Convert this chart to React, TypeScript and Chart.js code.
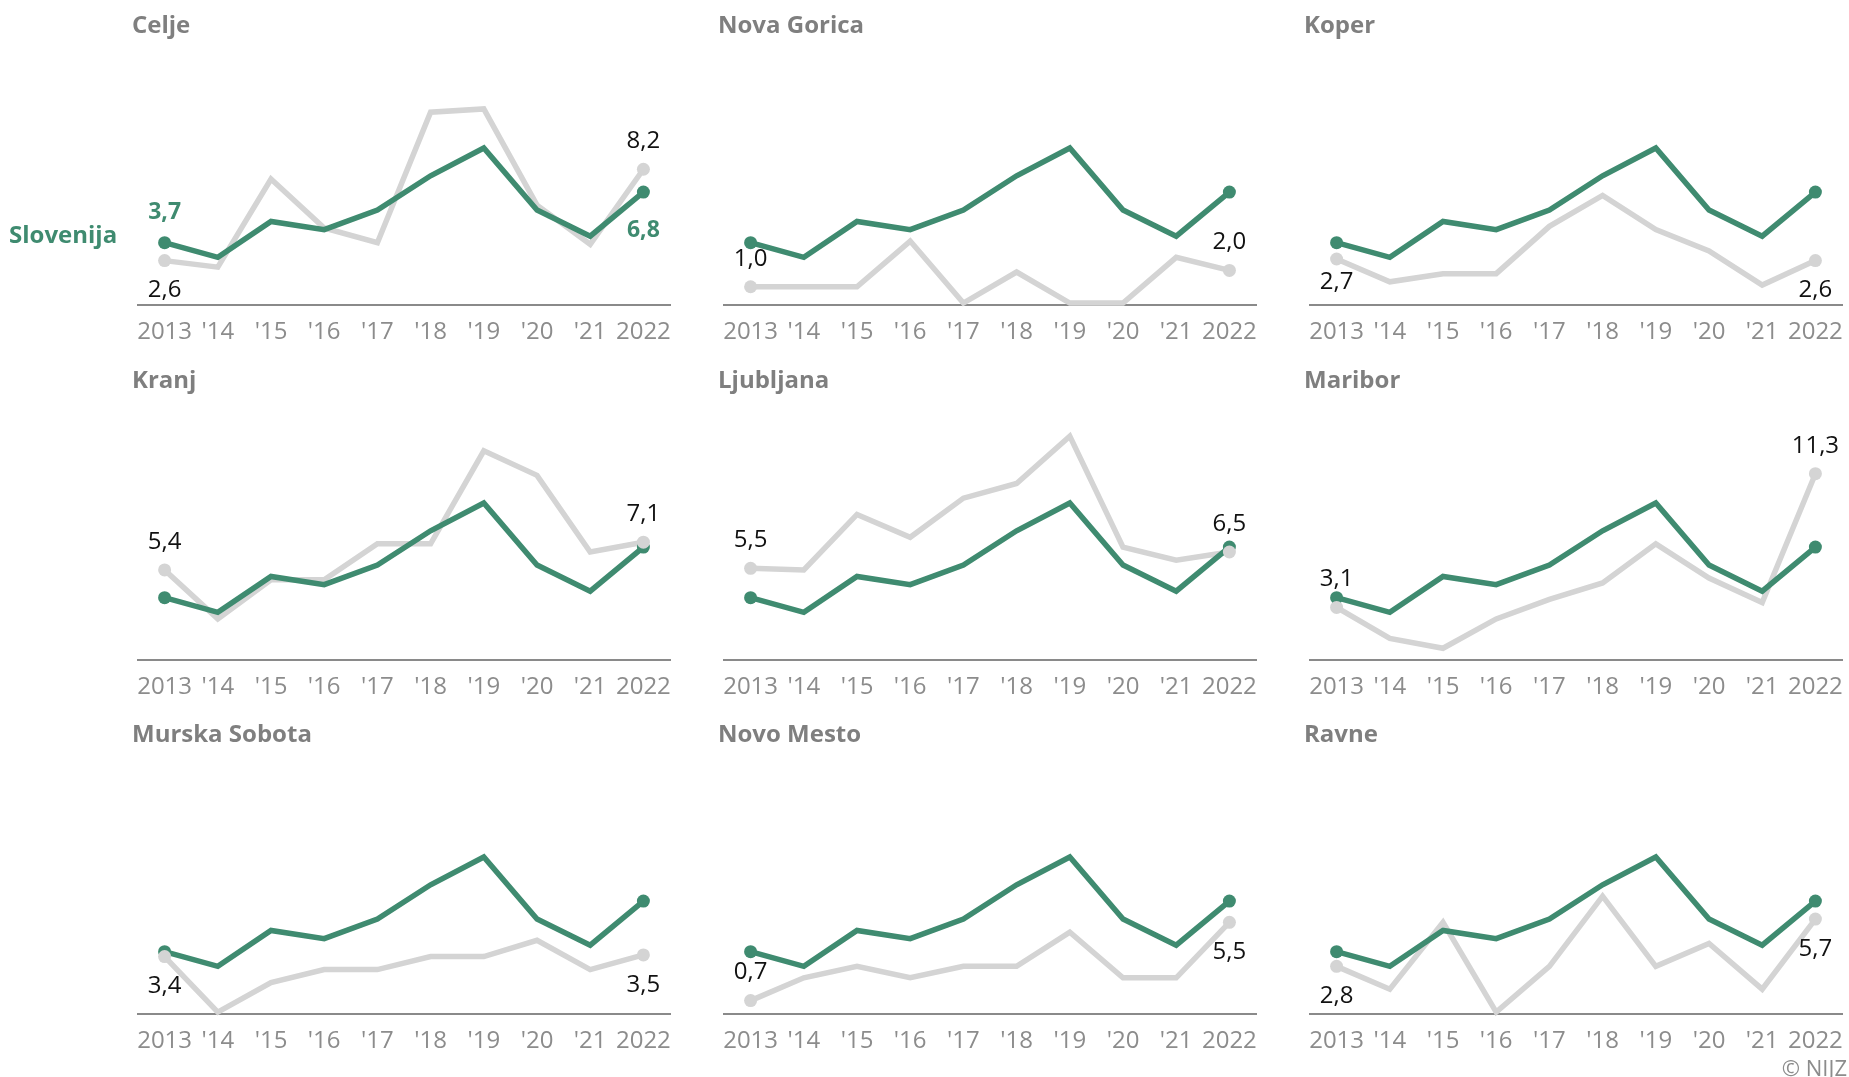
import React, { useEffect, useRef } from 'react';
import { Chart, registerables } from 'chart.js';

Chart.register(...registerables);

// ---- data ----
const years = ['2013', "'14", "'15", "'16", "'17", "'18", "'19", "'20", "'21", '2022'];
const slovenija = [3.7, 2.8, 5.0, 4.5, 5.7, 7.8, 9.5, 5.7, 4.1, 6.8];
const regionNames = ['Celje', 'Nova Gorica', 'Koper', 'Kranj', 'Ljubljana', 'Maribor', 'Murska Sobota', 'Novo Mesto', 'Ravne'];
const celje = [2.6, 2.2, 7.6, 4.6, 3.7, 11.7, 11.9, 6.0, 3.6, 8.2];
const novaGorica = [1.0, 1.0, 1.0, 3.8, 0, 1.9, 0, 0, 2.8, 2.0];
const koper = [2.7, 1.3, 1.8, 1.8, 4.7, 6.6, 4.5, 3.2, 1.1, 2.6];
const kranj = [5.4, 2.4, 4.8, 4.8, 7.0, 7.0, 12.7, 11.2, 6.5, 7.1];
const ljubljana = [5.5, 5.4, 8.8, 7.4, 9.8, 10.7, 13.6, 6.8, 6.0, 6.5];
const maribor = [3.1, 1.2, 0.6, 2.4, 3.6, 4.6, 7.0, 4.9, 3.4, 11.3];
const murskaSobota = [3.4, 0, 1.8, 2.6, 2.6, 3.4, 3.4, 4.4, 2.6, 3.5];
const novoMesto = [0.7, 2.1, 2.8, 2.1, 2.8, 2.8, 4.9, 2.1, 2.1, 5.5];
const ravne = [2.8, 1.4, 5.5, 0, 2.8, 7.1, 2.8, 4.2, 1.4, 5.7];
const regionValues = [celje, novaGorica, koper, kranj, ljubljana, maribor, murskaSobota, novoMesto, ravne];

// label placement for first / last value of each region line
const regionLabelPlacement = [
  ['below', 'above'], ['above', 'above'], ['belowNear', 'below'],
  ['above', 'above'], ['above', 'above'], ['above', 'above'],
  ['below', 'below'], ['above', 'below'], ['below', 'below'],
];
const sloLabelPlacement = ['above', 'below'];

// ---- style / layout ----
const FONT = "'Open Sans', 'Noto Sans', sans-serif";
const GREEN = '#3f8b70';
const GRAY = '#d4d4d4';
const COL_LEFT = [138, 724, 1310];
const ROW_BASE = [304.5, 659.5, 1013.5];
const AREA_W = 532;
const AREA_H = 263;
const PAD_T = 20;
const PAD_X = 30;
const AXIS_H = 50;

const fmt = (v: number) => v.toFixed(1).replace('.', ',');

const endLabels = {
  id: 'endLabels',
  afterDatasetsDraw(chart: any, _args: any, opts: any) {
    const { ctx } = chart;
    (opts.items || []).forEach((item: any) => {
      const meta = chart.getDatasetMeta(item.dataset);
      const data = chart.data.datasets[item.dataset].data as number[];
      [0, data.length - 1].forEach((idx, k) => {
        const el = meta.data[idx];
        if (!el) return;
        const p = item.placement[k];
        const dy = p === 'above' ? -item.above : p === 'belowNear' ? item.belowNear : item.below;
        ctx.save();
        ctx.font = item.font;
        ctx.fillStyle = item.color;
        ctx.textAlign = 'center';
        ctx.textBaseline = 'middle';
        ctx.fillText(fmt(data[idx]), el.x, el.y + dy);
        ctx.restore();
      });
    });
  },
};

function endRadius(r: number) {
  return (c: any) => (c.dataIndex === 0 || c.dataIndex === years.length - 1 ? r : 0);
}

function Panel({ idx }: { idx: number }) {
  const ref = useRef<HTMLCanvasElement>(null);
  const col = idx % 3;
  const row = Math.floor(idx / 3);
  const L = COL_LEFT[col];
  const B = ROW_BASE[row];
  const cw = AREA_W + PAD_X * 2;
  const ch = PAD_T + AREA_H + AXIS_H;

  useEffect(() => {
    if (!ref.current) return;
    const items: any[] = [
      {
        dataset: 0,
        placement: regionLabelPlacement[idx],
        font: `24px ${FONT}`,
        color: '#111111',
        above: 28,
        below: 30,
        belowNear: 23,
      },
    ];
    if (idx === 0) {
      items.push({
        dataset: 1,
        placement: sloLabelPlacement,
        font: `bold 23px ${FONT}`,
        color: GREEN,
        above: 30,
        below: 38,
        belowNear: 30,
      });
    }
    const common = {
      pointHoverRadius: 0,
      pointBorderWidth: 0,
      tension: 0,
      clip: false as any,
    };
    const chart = new Chart(ref.current, {
      type: 'line',
      data: {
        labels: years,
        datasets: [
          {
            ...common,
            label: regionNames[idx] + ' točke',
            data: regionValues[idx],
            showLine: false,
            borderColor: GRAY,
            backgroundColor: GRAY,
            pointRadius: endRadius(6.5),
            order: 0,
          },
          {
            ...common,
            label: 'Slovenija točke',
            data: slovenija,
            showLine: false,
            borderColor: GREEN,
            backgroundColor: GREEN,
            pointRadius: endRadius(6.5),
            order: 1,
          },
          {
            ...common,
            label: 'Slovenija',
            data: slovenija,
            borderColor: GREEN,
            backgroundColor: GREEN,
            borderWidth: 5.5,
            pointRadius: 0,
            order: 2,
          },
          {
            ...common,
            label: regionNames[idx],
            data: regionValues[idx],
            borderColor: GRAY,
            backgroundColor: GRAY,
            borderWidth: 5.5,
            pointRadius: 0,
            order: 3,
          },
        ],
      },
      options: {
        responsive: false,
        animation: false,
        events: [],
        layout: { padding: { top: PAD_T, left: PAD_X, right: PAD_X, bottom: 0 } },
        plugins: {
          legend: { display: false },
          tooltip: { enabled: false },
          title: { display: false },
          endLabels: { items },
        } as any,
        scales: {
          x: {
            offset: true,
            grid: { display: false, drawTicks: false },
            border: { display: true, color: '#8a8a8a', width: 2 },
            ticks: {
              color: '#8c8c8c',
              font: { size: 24, family: FONT },
              padding: 13,
              maxRotation: 0,
              autoSkip: false,
            },
            afterFit: (s: any) => {
              s.height = AXIS_H;
            },
          },
          y: { display: false, min: -0.12, max: 16 },
        },
      },
      plugins: [endLabels as any],
    });
    return () => chart.destroy();
  }, [idx]);

  return (
    <>
      <canvas
        ref={ref}
        width={cw}
        height={ch}
        style={{
          position: 'absolute',
          left: L - PAD_X,
          top: B - AREA_H - PAD_T,
          width: cw,
          height: ch,
        }}
      />
      <div
        style={{
          position: 'absolute',
          left: L - 6,
          top: B - 281 - 15,
          height: 30,
          lineHeight: '30px',
          fontFamily: FONT,
          fontWeight: 700,
          fontSize: 24,
          color: '#7f7f7f',
          whiteSpace: 'nowrap',
        }}
      >
        {regionNames[idx]}
      </div>
    </>
  );
}

export default function App() {
  return (
    <div
      style={{
        position: 'absolute',
        left: 0,
        top: 0,
        width: 1849,
        height: 1077,
        overflow: 'hidden',
        background: '#ffffff',
      }}
    >
      {regionNames.map((_, i) => (
        <Panel key={i} idx={i} />
      ))}
      <div
        style={{
          position: 'absolute',
          left: 9,
          top: 234 - 15,
          height: 30,
          lineHeight: '30px',
          fontFamily: FONT,
          fontWeight: 700,
          fontSize: 24,
          color: GREEN,
          whiteSpace: 'nowrap',
        }}
      >
        Slovenija
      </div>
      <div
        style={{
          position: 'absolute',
          right: 2,
          top: 1056,
          height: 22,
          lineHeight: '22px',
          fontFamily: FONT,
          fontSize: 22,
          color: '#8c8c8c',
          whiteSpace: 'nowrap',
        }}
      >
        © NIJZ
      </div>
    </div>
  );
}
